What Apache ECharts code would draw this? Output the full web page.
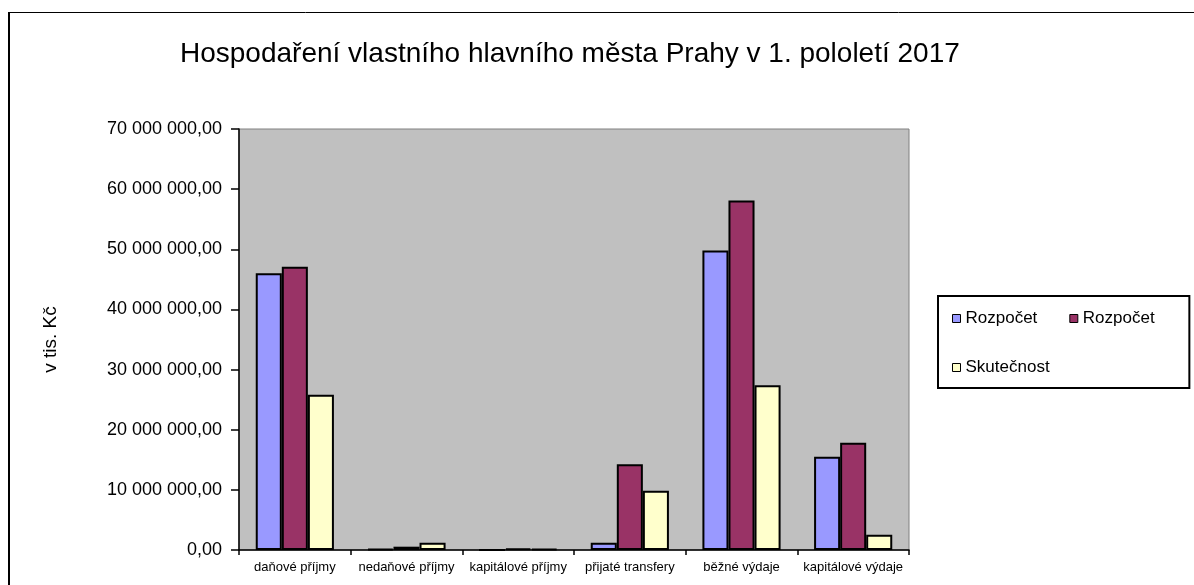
<!DOCTYPE html>
<html>
<head>
<meta charset="utf-8">
<script src="https://cdn.jsdelivr.net/npm/echarts@6/dist/echarts.min.js"></script>
<style>
  html, body { margin: 0; padding: 0; background: #fff; }
  #main { width: 1194px; height: 585px; }
</style>
</head>
<body>
<div id="main"></div>
<script>
const categories = ['daňové příjmy', 'nedaňové příjmy', 'kapitálové příjmy', 'přijaté transfery', 'běžné výdaje', 'kapitálové výdaje'];
// two budget series share the same caption in the original legend
const seriesNames = ['Rozpočet', 'Rozpočet ', 'Skutečnost'];
const rozpocet1 = [46000000, 200000, 0, 1200000, 49800000, 15500000];
const rozpocet2 = [47100000, 550000, 250000, 14250000, 58100000, 17850000];
const skutecnost = [25800000, 1200000, 200000, 9860000, 27400000, 2550000];
const colors = ['#9999ff', '#993366', '#ffffcc'];

const font = 'Liberation Sans, Arial, sans-serif';

function fmt(v) {
  return String(v).replace(/\B(?=(\d{3})+(?!\d))/g, ' ') + ',00';
}

let myChart = echarts.init(document.getElementById('main'));

function bar(name, data, color) {
  return {
    name: name,
    type: 'bar',
    data: data,
    barGap: 0,
    barCategoryGap: '30%',
    itemStyle: { color: color, borderColor: '#000', borderWidth: 2 },
    emphasis: { disabled: true }
  };
}

let option = {
  animation: false,
  textStyle: { fontFamily: font },
  title: {
    text: 'Hospodaření vlastního hlavního města Prahy v 1. pololetí 2017',
    left: 180,
    top: 40,
    padding: 0,
    textStyle: { fontFamily: font, fontSize: 28, fontWeight: 'normal', color: '#000' }
  },
  legend: {
    left: 938,
    top: 296,
    width: 240,
    padding: [14, 30, 12, 14],
    itemGap: 32,
    itemWidth: 8,
    itemHeight: 8,
    borderColor: '#000',
    borderWidth: 2,
    icon: 'rect',
    itemStyle: { borderColor: '#000', borderWidth: 1 },
    textStyle: { fontFamily: font, fontSize: 17, color: '#000' },
    data: seriesNames
  },
  grid: {
    left: 239,
    top: 129,
    width: 670,
    height: 421,
    show: true,
    backgroundColor: '#c0c0c0',
    borderColor: '#808080',
    borderWidth: 1
  },
  xAxis: {
    type: 'category',
    data: categories,
    axisLine: { lineStyle: { color: '#000', width: 1.5 } },
    axisTick: { show: true, length: 5, lineStyle: { color: '#000', width: 1.5 } },
    axisLabel: { color: '#000', fontSize: 13, margin: 11, interval: 0 }
  },
  yAxis: {
    type: 'value',
    min: 0,
    max: 70000000,
    interval: 10000000,
    name: 'v tis. Kč',
    nameLocation: 'middle',
    nameRotate: 90,
    nameGap: 179,
    nameTextStyle: { color: '#000', fontSize: 19, fontFamily: font },
    axisLine: { show: true, lineStyle: { color: '#000', width: 1.5 } },
    axisTick: { show: true, length: 8, lineStyle: { color: '#000', width: 1.5 } },
    splitLine: { show: false },
    axisLabel: { color: '#000', fontSize: 18, margin: 17, formatter: fmt }
  },
  graphic: [
    { type: 'line', shape: { x1: 9, y1: 12, x2: 9, y2: 600 }, style: { stroke: '#000', lineWidth: 2 } },
    { type: 'line', shape: { x1: 9, y1: 12.5, x2: 1200, y2: 12.5 }, style: { stroke: '#000', lineWidth: 1 } }
  ],
  series: [
    bar(seriesNames[0], rozpocet1, colors[0]),
    bar(seriesNames[1], rozpocet2, colors[1]),
    bar(seriesNames[2], skutecnost, colors[2])
  ]
};

option && myChart.setOption(option);
</script>
</body>
</html>
